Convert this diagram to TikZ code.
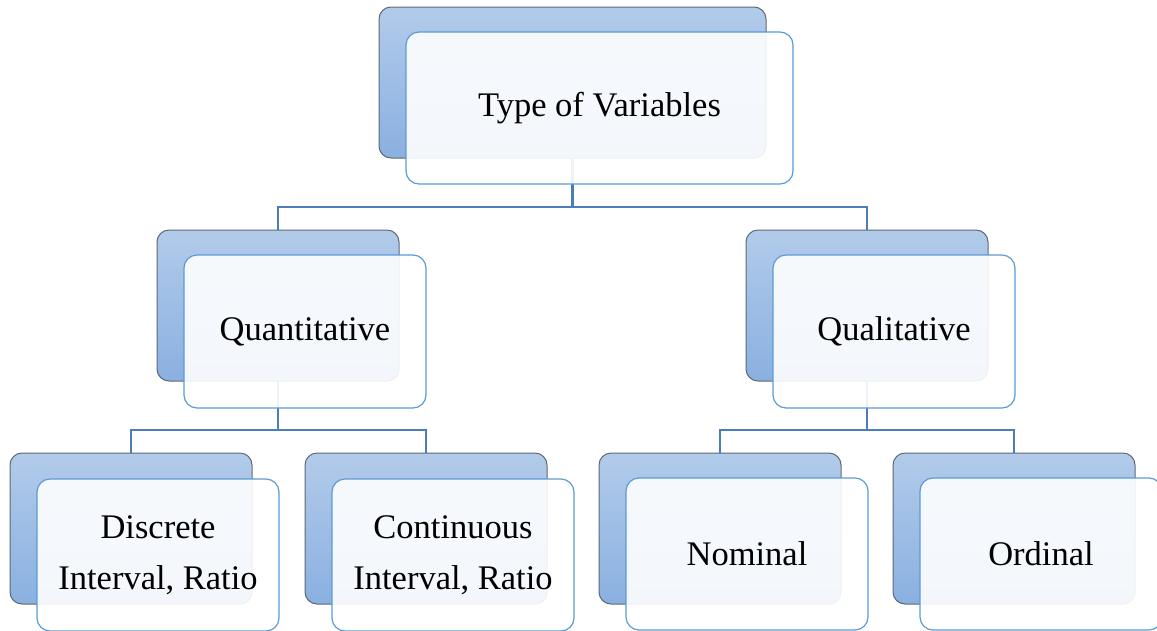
\documentclass[tikz,border=0pt]{standalone}
\usepackage{fontspec}
\setmainfont{Liberation Serif}
\definecolor{backtop}{HTML}{B2CBEA}
\definecolor{backbot}{HTML}{8AB0E0}
\definecolor{backedge}{HTML}{5E6874}
\definecolor{frontedge}{HTML}{5B9BD5}
\definecolor{linkcol}{HTML}{4A7EBB}
\begin{document}
\begin{tikzpicture}[x=1pt,y=-1pt,
  backbox/.style={draw=backedge, line width=1pt, top color=backtop, bottom color=backbot,
    rounded corners=12pt, minimum width=242pt, minimum height=151pt, inner sep=0pt},
  frontbox/.style={draw=frontedge, line width=1.2pt, fill=white, fill opacity=0.9, text opacity=1,
    rounded corners=13pt, minimum width=242pt, minimum height=152pt, inner sep=0pt,
    align=center, font=\fontsize{34.5}{51}\selectfont},
  link/.style={draw=linkcol, line width=2.9pt}]
\useasboundingbox (0,0) rectangle (1157,630);
\clip (0,0) rectangle (1157,630);
\coordinate (c0) at (572.5,82.5);
\coordinate (c1) at (278,305.5);
\coordinate (c2) at (867,305.5);
\coordinate (c3) at (131,528.5);
\coordinate (c4) at (426,528.5);
\coordinate (c5) at (720,528.5);
\coordinate (c6) at (1014,528.5);
% connectors
\coordinate (j0) at (572.5,207);
\coordinate (j1) at (278,430);
\coordinate (j2) at (867,430);
\draw[link] (572.5,158) -- (j0);
\draw[link] (j0) -| (278,230);
\draw[link] (j0) -| (867,230);
\draw[link] (278,381) -- (j1);
\draw[link] (j1) -| (131,453);
\draw[link] (j1) -| (426,453);
\draw[link] (867,381) -- (j2);
\draw[link] (j2) -| (720,453);
\draw[link] (j2) -| (1014,453);
% back boxes
\node[backbox, minimum width=387pt] (b0) at (c0) {};
\node[backbox] (b1) at (c1) {};
\node[backbox] (b2) at (c2) {};
\node[backbox] (b3) at (c3) {};
\node[backbox] (b4) at (c4) {};
\node[backbox] (b5) at (c5) {};
\node[backbox] (b6) at (c6) {};
% front boxes
\node[frontbox, minimum width=387pt] (f0) at (599.5,108) {Type of Variables};
\node[frontbox, minimum height=153pt] (f1) at (305,331.5) {Quantitative};
\node[frontbox, minimum height=153pt] (f2) at (894,331.5) {Qualitative};
\node[frontbox] (f3) at (158,555) {Discrete\\Interval, Ratio};
\node[frontbox] (f4) at (453,555) {Continuous\\Interval, Ratio};
\node[frontbox] (f5) at (747,554) {Nominal};
\node[frontbox] (f6) at (1041,554) {Ordinal};
\end{tikzpicture}
\end{document}
